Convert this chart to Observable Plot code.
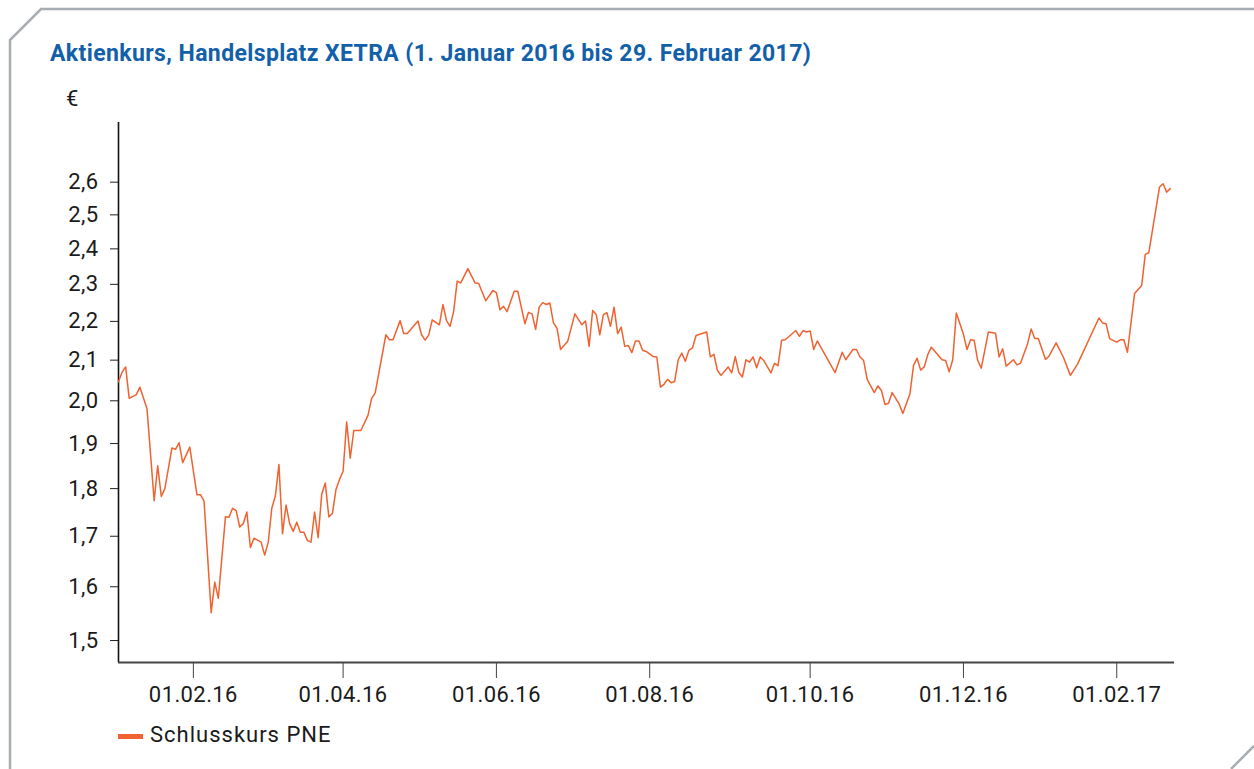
<!DOCTYPE html>
<html>
<head>
<meta charset="utf-8">
<script src="https://cdn.jsdelivr.net/npm/d3@7"></script>
<script src="https://cdn.jsdelivr.net/npm/@observablehq/plot@0.6"></script>
<style>
  html, body { margin: 0; padding: 0; background: #fff; }
  #page { position: relative; width: 1254px; height: 769px; overflow: hidden; font-family: Roboto, sans-serif; }
  #frame { position: absolute; left: 0; top: 0; }
  #title { position: absolute; left: 50px; top: 41.5px; font-size: 23px; line-height: 23px; font-weight: 700; color: #1160a9; white-space: nowrap; letter-spacing: 0.4px; }
  #unit { position: absolute; left: 66px; top: 88px; font-size: 22px; line-height: 22px; color: #1a1a1a; }
  #chart { position: absolute; left: 0; top: 80px; }
  #legend { position: absolute; left: 118px; top: 724px; font-size: 22px; line-height: 22px; color: #1a1a1a; display: flex; align-items: center; letter-spacing: 1px; }
  #legend .sw { width: 25px; height: 5px; background: #f0622f; margin-right: 7px; margin-top: 2px; }
  #chart svg text { letter-spacing: 0.4px; }
</style>
</head>
<body>
<div id="page">
  <svg id="frame" width="1254" height="769">
    <path d="M1254,9 H41 L10,40 V769" fill="none" stroke="#a8adb2" stroke-width="2.5"/>
    <path d="M1231,769 L1254,746" fill="none" stroke="#a8adb2" stroke-width="2.5"/>
  </svg>
  <div id="title">Aktienkurs, Handelsplatz XETRA (1. Januar 2016 bis 29. Februar 2017)</div>
  <div id="unit">€</div>
  <div id="chart"></div>
  <div id="legend"><span class="sw"></span><span>Schlusskurs PNE</span></div>
</div>
<script>
// Trading-day index (0 = first trading day of 2016) and closing price in €
const days = [
  -1,0,1,2,4,5,7,9,10,11,
  12,14,15,16,17,19,21,22,23,25,
  26,27,29,30,31,32,33,34,35,36,
  37,39,40,41,42,43,44,45,46,47,
  48,49,50,51,52,53,54,55,56,57,
  58,59,60,61,62,63,64,65,67,69,
  70,71,74,75,76,78,79,80,83,84,
  85,86,87,89,90,91,92,93,94,95,
  97,99,100,102,104,105,106,107,108,110,
  111,113,114,115,116,117,118,119,120,121,
  122,123,125,127,129,130,131,132,133,134,
  135,136,137,138,139,140,141,142,143,144,
  145,146,147,149,150,151,152,153,154,155,
  156,157,158,159,160,161,164,165,166,167,
  168,170,171,172,173,174,175,176,177,178,
  179,180,182,183,184,185,186,189,190,191,
  192,193,194,195,200,202,203,205,206,207,
  208,209,211,212,213,214,215,216,218,219,
  221,222,223,224,225,226,227,230,231,232,
  233,234,236,237,238,239,240,241,243,245,
  246,247,248,250,251,252,254,255,256,257,
  259,260,262,264,266,268,274,275,276,277,
  279,280,281,282,284,286,287,288,291,292,
  293,294
];
const prices = [
  2.046,2.070,2.083,2.006,2.015,2.033,1.981,1.774,1.850,1.783,
  1.800,1.890,1.887,1.902,1.857,1.892,1.787,1.787,1.773,1.551,
  1.609,1.578,1.740,1.739,1.758,1.753,1.719,1.726,1.750,1.677,
  1.696,1.688,1.662,1.688,1.758,1.784,1.853,1.705,1.765,1.726,
  1.710,1.729,1.708,1.708,1.691,1.688,1.750,1.697,1.788,1.812,
  1.740,1.747,1.798,1.820,1.838,1.950,1.867,1.930,1.930,1.966,
  2.006,2.019,2.165,2.152,2.152,2.202,2.168,2.168,2.201,2.165,
  2.151,2.164,2.204,2.191,2.245,2.202,2.187,2.226,2.309,2.304,
  2.344,2.304,2.303,2.255,2.283,2.277,2.231,2.240,2.226,2.281,
  2.281,2.194,2.224,2.220,2.179,2.238,2.250,2.245,2.249,2.196,
  2.182,2.127,2.148,2.220,2.191,2.201,2.135,2.229,2.218,2.165,
  2.218,2.223,2.187,2.238,2.168,2.185,2.135,2.137,2.119,2.149,
  2.149,2.125,2.122,2.109,2.108,2.033,2.040,2.052,2.044,2.047,
  2.101,2.118,2.097,2.125,2.131,2.163,2.172,2.108,2.115,2.074,
  2.062,2.083,2.068,2.109,2.069,2.058,2.101,2.095,2.108,2.081,
  2.108,2.099,2.068,2.092,2.086,2.151,2.152,2.176,2.161,2.176,
  2.172,2.175,2.127,2.149,2.069,2.120,2.101,2.127,2.127,2.108,
  2.099,2.052,2.020,2.036,2.025,1.991,1.994,2.020,1.992,1.970,
  2.017,2.087,2.105,2.075,2.083,2.114,2.133,2.101,2.099,2.071,
  2.101,2.222,2.166,2.127,2.152,2.151,2.099,2.080,2.172,2.169,
  2.108,2.129,2.085,2.101,2.088,2.092,2.142,2.180,2.155,2.155,
  2.102,2.110,2.144,2.108,2.062,2.090,2.209,2.196,2.194,2.155,
  2.146,2.152,2.152,2.120,2.275,2.297,2.384,2.389,2.585,2.595,
  2.569,2.580
];
const xTickDays = [20, 62, 105, 148, 193, 236, 279];
const xTickLabels = ["01.02.16", "01.04.16", "01.06.16", "01.08.16", "01.10.16", "01.12.16", "01.02.17"];
const yTicks = [1.5, 1.6, 1.7, 1.8, 1.9, 2.0, 2.1, 2.2, 2.3, 2.4, 2.5, 2.6];

const data = days.map((d, i) => ({day: d, price: prices[i]}));
const labelOf = new Map(xTickDays.map((d, i) => [d, xTickLabels[i]]));
const xDomain = [-1, 295.2];
const yDomain = [1.461, 2.793];

const chart = Plot.plot({
  width: 1254,
  height: 640,
  marginLeft: 118,
  marginRight: 80,
  marginTop: 42,
  marginBottom: 58,
  style: {fontFamily: "Roboto, sans-serif", fontSize: "22px", color: "#1a1a1a", background: "transparent", overflow: "visible"},
  x: {type: "linear", domain: xDomain},
  y: {type: "log", domain: yDomain},
  marks: [
    Plot.axisY({ticks: yTicks, tickFormat: d => d.toFixed(1).replace(".", ","), tickSize: 8, tickPadding: 12, label: null, stroke: "#222"}),
    Plot.axisX({ticks: xTickDays, tickFormat: d => labelOf.get(d), tickSize: 16, tickPadding: 8, label: null, stroke: "#444"}),
    Plot.ruleX([xDomain[0]], {stroke: "#111", strokeWidth: 1.6}),
    Plot.ruleY([yDomain[0]], {stroke: "#444", strokeWidth: 2}),
    Plot.line(data, {x: "day", y: "price", stroke: "#f0622f", strokeWidth: 1.5})
  ]
});
document.getElementById("chart").appendChild(chart);
</script>
</body>
</html>
